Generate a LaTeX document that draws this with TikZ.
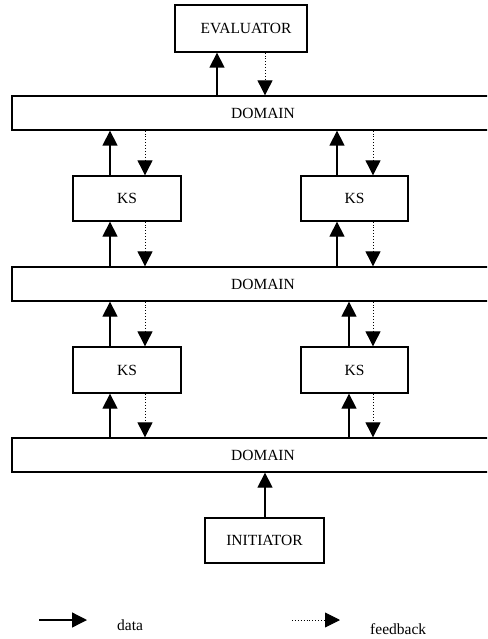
\documentclass[tikz,border=0pt]{standalone}
\usepackage{fontspec}
\setmainfont{Liberation Serif}
\usetikzlibrary{arrows.meta}
\begin{document}
\begin{tikzpicture}[x=1pt,y=-1pt,
  box/.style={draw,line width=1.3pt,rectangle,inner sep=0pt,font=\fontsize{15.5}{18}\selectfont},
  lbl/.style={inner sep=0pt,font=\fontsize{15.5}{18}\selectfont},
  data/.style={line width=1.3pt,-{Triangle[width=15pt,length=15pt]}},
  fb/.style={line width=0.9pt,dotted,-{Triangle[width=15pt,length=15pt]}}]
\useasboundingbox (0,0) rectangle (487,639);
\clip (0,0) rectangle (487,639);
% boxes
\node[box,minimum width=132pt,minimum height=47pt] (eval) at (241,28.5) {};
\node[lbl] at (246,28.5) {EVALUATOR};
\node[box,minimum width=502pt,minimum height=34pt] (dom1) at (263,113) {DOMAIN};
\node[box,minimum width=108pt,minimum height=45pt] (ks1) at (127,198.5) {KS};
\node[box,minimum width=107pt,minimum height=45pt] (ks2) at (354.5,198.5) {KS};
\node[box,minimum width=502pt,minimum height=34pt] (dom2) at (263,284) {DOMAIN};
\node[box,minimum width=108pt,minimum height=46pt] (ks3) at (127,370) {KS};
\node[box,minimum width=107pt,minimum height=46pt] (ks4) at (354.5,370) {KS};
\node[box,minimum width=502pt,minimum height=34pt] (dom3) at (263,455) {DOMAIN};
\node[box,minimum width=119pt,minimum height=45pt] (init) at (264.5,540.5) {INITIATOR};
% columns
\coordinate (cE) at (217,0);
\coordinate (cEf) at (265,0);
\coordinate (cL) at (110,0);
\coordinate (cLf) at (145,0);
\coordinate (cR) at (337,0);
\coordinate (cR2) at (349,0);
\coordinate (cRf) at (373,0);
\coordinate (cI) at (265,0);
% evaluator
\draw[data] (dom1.north -| cE) -- (eval.south -| cE);
\draw[fb] (eval.south -| cEf) -- (dom1.north -| cEf);
% upper KS
\draw[data] (ks1.north -| cL) -- (dom1.south -| cL);
\draw[fb] (dom1.south -| cLf) -- (ks1.north -| cLf);
\draw[data] (ks2.north -| cR) -- (dom1.south -| cR);
\draw[fb] (dom1.south -| cRf) -- (ks2.north -| cRf);
\draw[data] (dom2.north -| cL) -- (ks1.south -| cL);
\draw[fb] (ks1.south -| cLf) -- (dom2.north -| cLf);
\draw[data] (dom2.north -| cR) -- (ks2.south -| cR);
\draw[fb] (ks2.south -| cRf) -- (dom2.north -| cRf);
% lower KS
\draw[data] (ks3.north -| cL) -- (dom2.south -| cL);
\draw[fb] (dom2.south -| cLf) -- (ks3.north -| cLf);
\draw[data] (ks4.north -| cR2) -- (dom2.south -| cR2);
\draw[fb] (dom2.south -| cRf) -- (ks4.north -| cRf);
\draw[data] (dom3.north -| cL) -- (ks3.south -| cL);
\draw[fb] (ks3.south -| cLf) -- (dom3.north -| cLf);
\draw[data] (dom3.north -| cR2) -- (ks4.south -| cR2);
\draw[fb] (ks4.south -| cRf) -- (dom3.north -| cRf);
% initiator
\draw[data] (init.north -| cI) -- (dom3.south -| cI);
% legend
\coordinate (ld1) at (39,620);
\coordinate (ld2) at (87,620);
\coordinate (lf1) at (292,620);
\coordinate (lf2) at (340,620);
\draw[data] (ld1) -- (ld2);
\draw[fb] (lf1) -- (lf2);
\node[lbl,anchor=base west] (ldata) at (117,630) {data};
\node[lbl,anchor=base west] (lfb) at (370,634) {feedback};
\end{tikzpicture}
\end{document}
